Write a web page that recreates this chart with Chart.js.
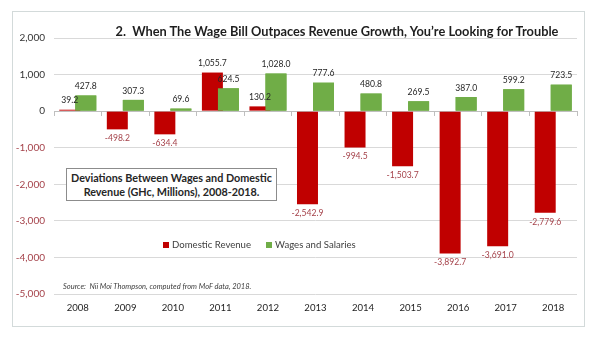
<!DOCTYPE html>
<html>
<head>
<meta charset="utf-8">
<script src="https://cdn.jsdelivr.net/npm/chart.js@4.4.1/dist/chart.umd.min.js"></script>
<style>
  html, body { margin: 0; padding: 0; background: #fff; }
  #wrap { position: relative; width: 600px; height: 337px; font-family: Lato, "Open Sans", sans-serif; }
  #frame { position: absolute; left: 12px; top: 11px; width: 571px; height: 314px; border: 1px solid #d3dada; }
  canvas { position: absolute; left: 0; top: 0; }
  #title { position: absolute; left: 100px; width: 474px; top: 23px; text-align: center;
           font-weight: bold; font-size: 12.8px; color: #1e1e1e; white-space: nowrap; }
  #note { position: absolute; left: 66px; top: 168px; width: 211px; height: 33px; border: 1px solid #8c8c8c;
          background: #fff; text-align: center; font-weight: bold; font-size: 10.8px; line-height: 14px;
          color: #262626; padding-top: 2px; box-sizing: border-box; white-space: nowrap; }
  #legend { position: absolute; left: 163px; top: 239px; font-size: 9.6px; color: #404040; white-space: nowrap; }
  #legend span.sw { display: inline-block; width: 6px; height: 6px; margin-right: 3px; vertical-align: 0px; }
  #legend span.item { margin-right: 15px; }
  #source { position: absolute; left: 63px; top: 282px; font-size: 7.5px; font-style: italic; color: #404040; white-space: nowrap; }
</style>
</head>
<body>
<div id="wrap">
  <div id="frame"></div>
  <canvas id="chart" width="600" height="337"></canvas>
  <div id="title">2.&nbsp; When The Wage Bill Outpaces Revenue Growth, You’re Looking for Trouble</div>
  <div id="note">Deviations Between Wages and Domestic<br>Revenue (GHc, Millions), 2008-2018.</div>
  <div id="legend"><span class="item"><span class="sw" style="background:#c00000"></span>Domestic Revenue</span><span class="item"><span class="sw" style="background:#70ad47"></span>Wages and Salaries</span></div>
  <div id="source">Source:&nbsp; Nii Moi Thompson, computed from MoF data, 2018.</div>
</div>
<script>
// Données
const years = ['2008', '2009', '2010', '2011', '2012', '2013', '2014', '2015', '2016', '2017', '2018'];
const domesticRevenue = [39.2, -498.2, -634.4, 1055.7, 130.2, -2542.9, -994.5, -1503.7, -3892.7, -3691.0, -2779.6];
const wagesSalaries = [427.8, 307.3, 69.6, 624.5, 1028.0, 777.6, 480.8, 269.5, 387.0, 599.2, 723.5];
const yTicks = [2000, 1000, 0, -1000, -2000, -3000, -4000, -5000];

const negColor = '#a5424a';
const fmt = v => v.toLocaleString('en-US', { minimumFractionDigits: 1, maximumFractionDigits: 1 });

// Redessine les barres vertes par-dessus + étiquettes
const barLabels = {
    id: 'barLabels',
    afterDatasetsDraw(chart) {
        const ctx = chart.ctx;
        chart.getDatasetMeta(1).controller.draw();
        ctx.save();
        ctx.font = '8.6px Lato, "Open Sans", sans-serif';
        ctx.textAlign = 'center';
        ctx.textBaseline = 'middle';
        chart.data.datasets.forEach((ds, i) => {
            chart.getDatasetMeta(i).data.forEach((bar, j) => {
                const v = ds.data[j];
                if (v < 0) {
                    ctx.fillStyle = negColor;
                    ctx.fillText(fmt(v), bar.x, bar.y + 9);
                } else {
                    ctx.fillStyle = '#262626';
                    ctx.fillText(fmt(v), bar.x, bar.y - 9);
                }
            });
        });
        ctx.restore();
    }
};

new Chart(document.getElementById('chart'), {
    type: 'bar',
    data: {
        labels: years,
        datasets: [
            { label: 'Domestic Revenue', data: domesticRevenue, backgroundColor: '#c00000' },
            { label: 'Wages and Salaries', data: wagesSalaries, backgroundColor: '#70ad47' }
        ]
    },
    options: {
        responsive: false,
        animation: false,
        devicePixelRatio: 1,
        categoryPercentage: 0.674,
        barPercentage: 1.31,
        layout: { padding: { top: 38, right: 23, left: 0, bottom: 0 } },
        plugins: { legend: { display: false }, tooltip: { enabled: false } },
        scales: {
            x: {
                position: { y: 0 },
                ticks: { display: false },
                grid: { drawOnChartArea: false, offset: true, tickLength: 4, color: '#bfbfbf' },
                border: { color: '#bfbfbf' }
            },
            x2: {
                type: 'category',
                labels: years,
                position: 'bottom',
                grid: { display: false, drawTicks: false },
                border: { display: false },
                ticks: { color: '#1e1e1e', padding: 8, font: { family: 'Lato', size: 9.6 } },
                afterFit: s => { s.height = 43; }
            },
            y: {
                min: -5000,
                max: 2000,
                afterBuildTicks: s => { s.ticks = yTicks.map(v => ({ value: v })); },
                grid: { color: '#d9d9d9', drawTicks: false },
                border: { display: false },
                ticks: {
                    padding: 9,
                    font: { family: 'Lato', size: 10 },
                    color: c => c.tick.value < 0 ? negColor : '#333',
                    callback: v => v.toLocaleString('en-US')
                },
                afterFit: s => { s.width = 54; }
            }
        }
    },
    plugins: [barLabels]
});
</script>
</body>
</html>
